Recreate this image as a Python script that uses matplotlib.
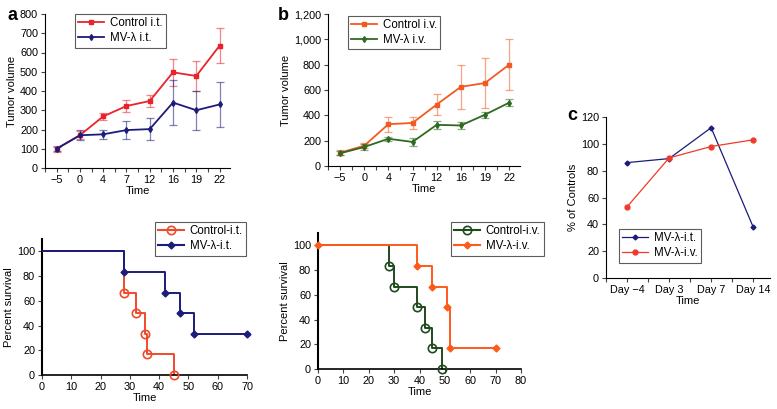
import matplotlib.pyplot as plt
import numpy as np

plt.rcParams['font.family'] = ['Liberation Sans', 'DejaVu Sans']
plt.rcParams['font.size'] = 8
plt.rcParams['xtick.labelsize'] = 7.8
plt.rcParams['ytick.labelsize'] = 7.8
plt.rcParams['legend.fontsize'] = 8.3

W, H = 777, 409

# tumor volume data
days = ['\u22125', '0', '4', '7', '12', '16', '19', '22']
ctrl_it = [100, 170, 268, 322, 348, 497, 478, 635]
ctrl_it_err = [15, 20, 20, 32, 30, 70, 80, 90]
mv_it = [100, 170, 175, 197, 202, 340, 300, 330]
mv_it_err = [10, 25, 25, 45, 58, 118, 100, 118]

ctrl_iv = [105, 160, 330, 340, 485, 625, 655, 800]
ctrl_iv_err = [20, 20, 60, 50, 80, 175, 200, 200]
mv_iv = [100, 150, 215, 190, 325, 320, 405, 500]
mv_iv_err = [15, 20, 15, 30, 30, 25, 25, 30]

# survival data (step points)
surv_ctrl_it_t = [0, 28, 32, 35, 36, 45]
surv_ctrl_it = [100, 66.7, 50, 33.3, 16.7, 0]
surv_mv_it_t = [0, 28, 42, 47, 52, 70]
surv_mv_it = [100, 83.3, 66.7, 50, 33.3, 33.3]

surv_ctrl_iv_t = [0, 28, 30, 39, 42, 45, 49]
surv_ctrl_iv = [100, 83.3, 66.7, 50, 33.3, 16.7, 0]
surv_mv_iv_t = [0, 39, 45, 51, 52, 70]
surv_mv_iv = [100, 83.3, 66.7, 50, 16.7, 16.7]

# percent of controls
c_days = ['Day \u22124', 'Day 3', 'Day 7', 'Day 14']
pct_it = [86, 89, 112, 38]
pct_iv = [53, 89.5, 98, 103]

RED = '#e8232b'
NAVY = '#1c1c7a'
ORANGE = '#f25a22'
GREEN = '#2f6a22'
DKGREEN = '#1f4a1f'


def box(l, t, r, b):
    return [l / W, (H - b) / H, (r - l) / W, (b - t) / H]


def style(ax):
    for s in ['top', 'right']:
        ax.spines[s].set_visible(False)
    ax.tick_params(which='both', direction='out', length=3, width=0.8, pad=2,
                   color='#444444')


def legend(ax, **kw):
    leg = ax.legend(fancybox=False, edgecolor='#333333', handlelength=2.2,
                    borderpad=0.3, labelspacing=0.25, handletextpad=0.5,
                    borderaxespad=0, **kw)
    leg.get_frame().set_linewidth(0.8)


fig = plt.figure(figsize=(W / 100, H / 100), dpi=100)


def tumor(ax, y1, e1, y2, e2, c1, c2, lab1, lab2, ymax, step, comma):
    x = np.arange(len(days))
    for y, e, c, m, lab in [(y1, e1, c1, 's', lab1), (y2, e2, c2, 'd', lab2)]:
        ax.errorbar(x, y, yerr=e, fmt='none', ecolor=c, elinewidth=0.9,
                    capsize=3, capthick=0.9, alpha=0.55)
        ax.plot(x, y, '-', color=c, marker=m, ms=3, lw=1.3, label=lab)
    ax.set_xticks(x)
    ax.set_xticks(np.arange(-0.5, len(days), 1), minor=True)
    ax.set_xticklabels(days)
    ax.set_xlim(-0.5, 7.45)
    ax.set_ylim(0, ymax)
    yt = np.arange(0, ymax + 1, step)
    ax.set_yticks(yt)
    if comma:
        ax.set_yticklabels(['{:,}'.format(v) for v in yt])
    ax.set_xlabel('Time', labelpad=1)
    ax.set_ylabel('Tumor volume', labelpad=2)
    style(ax)


ax1 = fig.add_axes(box(45, 14, 230, 168))
tumor(ax1, ctrl_it, ctrl_it_err, mv_it, mv_it_err, RED, NAVY,
      'Control i.t.', 'MV-\u03bb i.t.', 800, 100, False)
legend(ax1, loc='upper left', bbox_to_anchor=(30 / 185, 1.0))
fig.text(8 / W, 1 - 15 / H, 'a', fontsize=13, fontweight='bold', va='center')

ax2 = fig.add_axes(box(328, 14, 520, 166))
tumor(ax2, ctrl_iv, ctrl_iv_err, mv_iv, mv_iv_err, ORANGE, GREEN,
      'Control i.v.', 'MV-\u03bb i.v.', 1200, 200, True)
legend(ax2, loc='upper left', bbox_to_anchor=(20 / 192, 0.99))
fig.text(278 / W, 1 - 15 / H, 'b', fontsize=13, fontweight='bold', va='center')


def surv(ax, t1, s1, t2, s2, c1, c2, lab1, lab2, xmax, m2_first):
    ax.step(t1, s1, where='post', color=c1, lw=1.4, zorder=2)
    ax.plot(t1[1:], s1[1:], 'o', mfc='none', mec=c1, mew=1.2, ms=6, zorder=4,
            clip_on=False)
    ax.step(t2, s2, where='post', color=c2, lw=1.4, zorder=3)
    mt = t2 if m2_first else t2[1:]
    ms_ = s2 if m2_first else s2[1:]
    ax.plot(mt, ms_, 'D', color=c2, ms=3.5, zorder=5, clip_on=False)
    ax.plot([], [], '-o', color=c1, mfc='none', mew=1.2, ms=6, label=lab1)
    ax.plot([], [], '-D', color=c2, ms=3.5, label=lab2)
    ax.set_xlim(0, xmax)
    ax.set_ylim(0, 110)
    ax.set_yticks(np.arange(0, 101, 20))
    ax.set_xticks(np.arange(0, xmax + 1, 10))
    ax.set_xlabel('Time', labelpad=1)
    ax.set_ylabel('Percent survival', labelpad=2)
    style(ax)
    ax.spines['left'].set_linewidth(1.5)
    ax.spines['bottom'].set_linewidth(1.2)


ax3 = fig.add_axes(box(42, 239, 247, 375))
surv(ax3, surv_ctrl_it_t, surv_ctrl_it, surv_mv_it_t, surv_mv_it, '#f04a2a', NAVY,
     'Control-i.t.', 'MV-\u03bb-i.t.', 70, False)
legend(ax3, loc='upper left', bbox_to_anchor=(113 / 205, 1 + 17 / 136))

ax4 = fig.add_axes(box(318, 233, 521, 369))
surv(ax4, surv_ctrl_iv_t, surv_ctrl_iv, surv_mv_iv_t, surv_mv_iv, DKGREEN, '#ff5a1a',
     'Control-i.v.', 'MV-\u03bb-i.v.', 80, True)
legend(ax4, loc='upper left', bbox_to_anchor=(133 / 203, 1 + 11 / 136))

ax5 = fig.add_axes(box(606, 117, 770, 278))
xc = np.arange(len(c_days))
ax5.plot(xc, pct_it, '-D', color=NAVY, lw=0.9, ms=2.5, label='MV-\u03bb-i.t.')
ax5.plot(xc, pct_iv, '-o', color='#f03a2a', lw=0.9, ms=3.5, label='MV-\u03bb-i.v.')
ax5.set_xticks(xc)
ax5.set_xticks(np.arange(-0.5, len(c_days), 1), minor=True)
ax5.set_xticklabels(c_days)
ax5.set_xlim(-0.5, 3.4)
ax5.set_ylim(0, 120)
ax5.set_yticks(np.arange(0, 121, 20))
ax5.set_xlabel('Time', labelpad=1)
ax5.set_ylabel('% of Controls', labelpad=2)
style(ax5)
legend(ax5, loc='upper left', bbox_to_anchor=(13 / 164, 1 - 112 / 161))
fig.text(567 / W, 1 - 116 / H, 'c', fontsize=13, fontweight='bold', va='center')

fig.savefig('out.png', dpi=100)
